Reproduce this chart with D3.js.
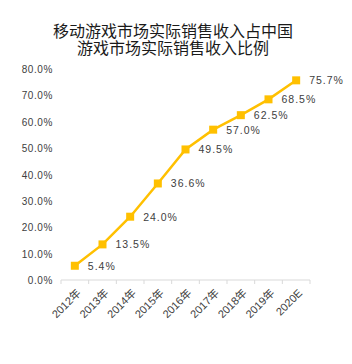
<!DOCTYPE html>
<html>
<head>
<meta charset="utf-8">
<script src="https://cdn.jsdelivr.net/npm/d3@7"></script>
<style>
  body { margin: 0; background: #fff; }
  svg { font-family: "Liberation Sans", "Noto Sans CJK SC", sans-serif; }
</style>
</head>
<body>
<div id="chart"></div>
<script>
const titleLines = ['移动游戏市场实际销售收入占中国', '游戏市场实际销售收入比例'];
const years = ['2012年', '2013年', '2014年', '2015年', '2016年', '2017年', '2018年', '2019年', '2020E'];
const shares = [5.4, 13.5, 24.0, 36.6, 49.5, 57.0, 62.5, 68.5, 75.7];
const yTicks = [0, 10, 20, 30, 40, 50, 60, 70, 80];

const width = 352, height = 364;
const margin = { top: 69, right: 42, bottom: 84, left: 61 };

const svg = d3.select('#chart').append('svg')
  .attr('width', width)
  .attr('height', height);

svg.append('text')
  .attr('text-anchor', 'middle')
  .attr('font-family', '"Noto Sans CJK SC", sans-serif')
  .attr('font-size', 16)
  .attr('fill', '#1a1a1a')
  .selectAll('tspan')
  .data(titleLines)
  .join('tspan')
  .attr('x', 173)
  .attr('y', (d, i) => 37 + i * 17)
  .text(d => d);

const x = d3.scaleBand()
  .domain(years)
  .range([margin.left, width - margin.right]);

const y = d3.scaleLinear()
  .domain([0, 80])
  .range([height - margin.bottom, margin.top]);

// y labels, no axis line
svg.append('g')
  .selectAll('text')
  .data(yTicks)
  .join('text')
  .attr('x', 53)
  .attr('y', d => y(d) + 4)
  .attr('text-anchor', 'end')
  .attr('font-size', 10)
  .attr('letter-spacing', 0.6)
  .attr('fill', '#404040')
  .text(d => d.toFixed(1) + '%');

// x axis with ticks between categories
const xAxis = svg.append('g').attr('transform', `translate(0,${y(0)})`);
xAxis.append('line')
  .attr('x1', x.range()[0]).attr('x2', x.range()[1])
  .attr('stroke', '#d9d9d9');
xAxis.selectAll('.tick')
  .data(years.map(d => x(d)).concat([x.range()[1]]))
  .join('line')
  .attr('x1', d => d).attr('x2', d => d)
  .attr('y1', 0).attr('y2', 4)
  .attr('stroke', '#d9d9d9');
xAxis.selectAll('text')
  .data(years)
  .join('text')
  .attr('transform', d => `translate(${x(d) + x.bandwidth() / 2 + 4},11) rotate(-45)`)
  .attr('text-anchor', 'end')
  .attr('dy', '0.35em')
  .attr('font-size', 11)
  .attr('fill', '#404040')
  .text(d => d);

const line = d3.line()
  .x((d, i) => x(years[i]) + x.bandwidth() / 2)
  .y(d => y(d));

svg.append('path')
  .datum(shares)
  .attr('d', line)
  .attr('fill', 'none')
  .attr('stroke', '#FFC000')
  .attr('stroke-width', 2.5);

svg.append('g')
  .selectAll('rect')
  .data(shares)
  .join('rect')
  .attr('x', (d, i) => x(years[i]) + x.bandwidth() / 2 - 4)
  .attr('y', d => y(d) - 4)
  .attr('width', 8)
  .attr('height', 8)
  .attr('fill', '#FFC000');

svg.append('g')
  .selectAll('text')
  .data(shares)
  .join('text')
  .attr('x', (d, i) => x(years[i]) + x.bandwidth() / 2 + 13)
  .attr('y', d => y(d) + 4)
  .attr('font-size', 10.5)
  .attr('letter-spacing', 1)
  .attr('fill', '#404040')
  .text(d => d.toFixed(1) + '%');
</script>
</body>
</html>
